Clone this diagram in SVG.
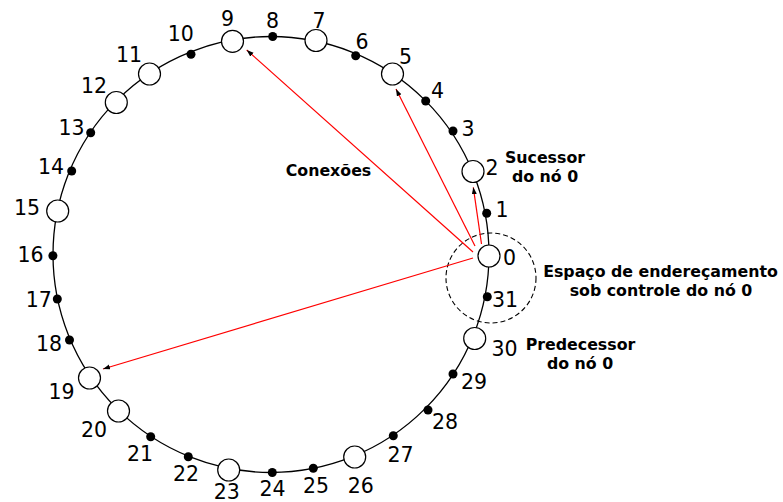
<svg xmlns="http://www.w3.org/2000/svg" width="783" height="502" viewBox="0 0 783 502">
<style>
.ring{fill:none;stroke:#000;stroke-width:1.3}
.node circle{fill:#fff;stroke:#000;stroke-width:1.2}
.dot{fill:#000}
.num{font-family:"DejaVu Sans",sans-serif;font-size:20.5px;text-anchor:middle;fill:#000}
.lbl{font-family:"DejaVu Sans",sans-serif;font-size:15.8px;font-weight:bold;text-anchor:middle;fill:#000}
.conn{stroke:#ff0000;stroke-width:1.2;fill:none;marker-end:url(#ah)}
.zone{fill:none;stroke:#000;stroke-width:1.1;stroke-dasharray:5,3}
</style>
<defs>
<marker id="ah" markerUnits="userSpaceOnUse" markerWidth="8" markerHeight="6" refX="7" refY="2.5" orient="auto">
<path d="M0,0 L7,2.5 L0,5 z" fill="#000"/>
</marker>
</defs>
<rect width="783" height="502" fill="#fff"/>
<circle class="ring" cx="271" cy="254.5" r="218"/>
<circle id="zone0" class="zone" cx="491" cy="278" r="45"/>
<g id="connectors">
<line class="conn" x1="481.5" y1="244" x2="473.3" y2="187.3"/>
<line class="conn" x1="475" y1="246" x2="396" y2="89"/>
<line class="conn" x1="473" y1="252" x2="246.7" y2="50"/>
<line class="conn" x1="473" y1="258" x2="103" y2="369"/>
</g>
<g id="dots">
<circle class="dot" cx="486.7" cy="213.3" r="4.5"/>
<circle class="dot" cx="453" cy="131" r="4.5"/>
<circle class="dot" cx="425.7" cy="101" r="4.5"/>
<circle class="dot" cx="355.7" cy="55.7" r="4.5"/>
<circle class="dot" cx="272.7" cy="36.5" r="4.5"/>
<circle class="dot" cx="191" cy="54.3" r="4.5"/>
<circle class="dot" cx="90.7" cy="132.7" r="4.5"/>
<circle class="dot" cx="71.7" cy="171" r="4.5"/>
<circle class="dot" cx="52.9" cy="255.7" r="4.5"/>
<circle class="dot" cx="57.3" cy="299" r="4.5"/>
<circle class="dot" cx="69.5" cy="340" r="4.5"/>
<circle class="dot" cx="150.7" cy="436.7" r="4.5"/>
<circle class="dot" cx="188.3" cy="456.7" r="4.5"/>
<circle class="dot" cx="272.3" cy="472.5" r="4.5"/>
<circle class="dot" cx="313.3" cy="468.3" r="4.5"/>
<circle class="dot" cx="393.3" cy="435.7" r="4.5"/>
<circle class="dot" cx="428" cy="410" r="4.5"/>
<circle class="dot" cx="453" cy="374" r="4.5"/>
<circle class="dot" cx="487.3" cy="296.7" r="4.5"/>
</g>
<g id="node0" class="node"><circle cx="489" cy="256" r="11"/></g>
<g id="node2" class="node"><circle cx="473" cy="171.5" r="11"/></g>
<g id="node5" class="node"><circle cx="392.5" cy="74" r="11"/></g>
<g id="node7" class="node"><circle cx="316" cy="40.5" r="11"/></g>
<g id="node9" class="node"><circle cx="232.5" cy="41.3" r="11"/></g>
<g id="node11" class="node"><circle cx="149.5" cy="74" r="11"/></g>
<g id="node12" class="node"><circle cx="116.3" cy="102.5" r="11"/></g>
<g id="node15" class="node"><circle cx="57.7" cy="211" r="11"/></g>
<g id="node19" class="node"><circle cx="89.5" cy="378" r="11"/></g>
<g id="node20" class="node"><circle cx="118.5" cy="411" r="11"/></g>
<g id="node23" class="node"><circle cx="228.7" cy="470" r="11"/></g>
<g id="node26" class="node"><circle cx="354.7" cy="457" r="11"/></g>
<g id="node30" class="node"><circle cx="474.7" cy="338.5" r="11"/></g>
<g id="numbers">
<text class="num" x="509.5" y="265">0</text>
<text class="num" x="502" y="217">1</text>
<text class="num" x="492" y="175">2</text>
<text class="num" x="468" y="135.5">3</text>
<text class="num" x="437.5" y="97.5">4</text>
<text class="num" x="405.5" y="63.5">5</text>
<text class="num" x="362" y="48.5">6</text>
<text class="num" x="319" y="28">7</text>
<text class="num" x="272.5" y="28">8</text>
<text class="num" x="227.5" y="25.5">9</text>
<text class="num" x="180.8" y="40.5">10</text>
<text class="num" x="129" y="61.5">11</text>
<text class="num" x="94" y="93">12</text>
<text class="num" x="71.5" y="134.5">13</text>
<text class="num" x="51" y="173.5">14</text>
<text class="num" x="27" y="215">15</text>
<text class="num" x="30.5" y="262">16</text>
<text class="num" x="38.8" y="307">17</text>
<text class="num" x="49" y="350.5">18</text>
<text class="num" x="61.5" y="398.5">19</text>
<text class="num" x="94" y="437">20</text>
<text class="num" x="140" y="460.5">21</text>
<text class="num" x="186" y="480.5">22</text>
<text class="num" x="226.7" y="498.5">23</text>
<text class="num" x="272.5" y="495.5">24</text>
<text class="num" x="316" y="492.5">25</text>
<text class="num" x="360.8" y="492.5">26</text>
<text class="num" x="400.5" y="461.5">27</text>
<text class="num" x="445" y="428.5">28</text>
<text class="num" x="474" y="388.5">29</text>
<text class="num" x="504.5" y="355.5">30</text>
<text class="num" x="505" y="307">31</text>
</g>
<g id="labels">
<text class="lbl" x="545" y="163">Sucessor</text>
<text class="lbl" x="545" y="182">do nó 0</text>
<text class="lbl" x="328.5" y="176">Conexões</text>
<text class="lbl" x="660.5" y="277">Espaço de endereçamento</text>
<text class="lbl" x="661" y="296">sob controle do nó 0</text>
<text class="lbl" x="580.5" y="350">Predecessor</text>
<text class="lbl" x="580" y="369">do nó 0</text>
</g>
</svg>
